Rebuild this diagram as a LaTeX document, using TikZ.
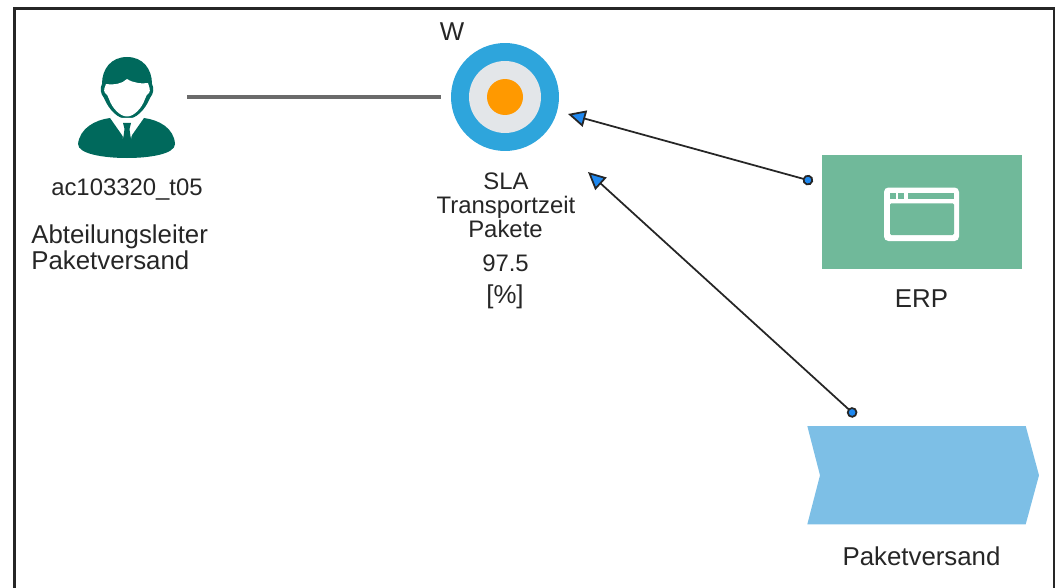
\documentclass[tikz,border=0pt]{standalone}
\usepackage{fontspec}
\setmainfont{Liberation Sans}
\usetikzlibrary{arrows.meta}
\definecolor{kpiblue}{HTML}{2EA5DC}
\definecolor{kpigrey}{HTML}{E3E6E9}
\definecolor{kpiorange}{HTML}{FF9900}
\definecolor{erpgreen}{HTML}{70B99A}
\definecolor{procblue}{HTML}{7DBFE6}
\definecolor{roleteal}{HTML}{00695C}
\definecolor{tipblue}{HTML}{1E88F0}
\tikzset{
  lbl/.style={font=\fontsize{14.7}{14.7}\selectfont, text=black!85, inner sep=0pt, anchor=base},
  lblsmall/.style={lbl, font=\fontsize{13.6}{13.6}\selectfont},
  disc/.style={circle, inner sep=0pt, minimum size=#1},
  link/.style={draw=black!85, line width=1pt,
    {Circle[length=6pt, fill=tipblue]}-{Triangle[length=10pt, width=9.5pt, fill=tipblue]}},
}
\begin{document}
\begin{tikzpicture}[x=0.02cm, y=-0.02cm]
    \useasboundingbox (0,0) rectangle (1058,588);
    % frame
    \draw[black!85, line width=1.4pt] (14.5,588) -- (14.5,8.5) -- (1054,8.5) -- (1054,588);
    % role
    \fill[roleteal] (127,57) .. controls (143,57) and (152,69) .. (152,84)
        .. controls (154,88) and (154,93) .. (150,98)
        .. controls (145,110) and (136,119) .. (127,119)
        .. controls (118,119) and (109,110) .. (104,98)
        .. controls (100,93) and (100,88) .. (102,84)
        .. controls (102,69) and (111,57) .. (127,57) -- cycle;
    \fill[white] (127,79) .. controls (133,83) and (142,84) .. (148,83)
        .. controls (149,87) and (151,90) .. (149,93)
        .. controls (147,94) and (146,96) .. (145,99)
        .. controls (142,108) and (134,116.5) .. (127,116.5)
        .. controls (120,116.5) and (112,108) .. (109,99)
        .. controls (108,96) and (107,94) .. (105,93)
        .. controls (103,90) and (105,87) .. (106,84)
        .. controls (114,85) and (122,84) .. (127,79) -- cycle;
    \fill[roleteal] (78,144) .. controls (80,128) and (95,120) .. (110,118)
        -- (124,138) -- (130,138) -- (144,118)
        .. controls (159,120) and (174,128) .. (175,144)
        .. controls (175,154) and (150,158) .. (127,158)
        .. controls (104,158) and (78,154) .. (78,144) -- cycle;
    \fill[white] (122,128) -- (123,139) -- (124,122) -- (130,122) -- (131,139) -- (133,128) -- (140,118) -- (114,118) -- cycle;
    \fill[roleteal] (123,123) -- (131,123) -- (129.5,129) -- (131,140) -- (123,140) -- (124.5,129) -- cycle;
    \node[lblsmall] (rolecode) at (127,195) {ac103320\_t05};
    \node[lbl, anchor=base west] (rolename1) at (31,243) {Abteilungsleiter};
    \node[lbl, anchor=base west] (rolename2) at (31,269) {Paketversand};
    % kpi
    \node[disc=2.16cm, fill=kpiblue] (kpi) at (505,97) {};
    \node[disc=1.44cm, fill=kpigrey] (kpimid) at (kpi) {};
    \node[disc=0.72cm, fill=kpiorange] (kpicore) at (kpi) {};
    \node[lbl] (kpiw) at (452,41) {W};
    \node[lblsmall] (kpi1) at (506,189) {SLA};
    \node[lblsmall] (kpi2) at (506,213) {Transportzeit};
    \node[lblsmall] (kpi3) at (505.5,237) {Pakete};
    \node[lblsmall] (kpival) at (505.5,271) {97.5};
    \node[lbl] (kpiunit) at (505,303) {[\%]};
    % erp
    \node[fill=erpgreen, minimum width=4cm, minimum height=2.28cm, inner sep=0pt] (erp) at (922,212) {};
    \fill[white, rounded corners=2.5pt] (884,187.5) rectangle (959,241);
    \fill[erpgreen] (890,193.3) rectangle (896,199.3);
    \fill[erpgreen] (898,193.3) rectangle (904,199.3);
    \fill[erpgreen] (908,193.3) rectangle (954,199.3);
    \fill[erpgreen, rounded corners=0.8pt] (890,203.3) rectangle (954,235);
    \node[lbl] (erplbl) at (921.5,307) {ERP};
    % process
    \fill[procblue] (807.3,426) -- (1025.7,426) -- (1039,475.3) -- (1025.7,524.3) -- (807.3,524.3) -- (820,475.3) -- cycle;
    \node[lbl] (proclbl) at (921.5,565) {Paketversand};
    % links
    \coordinate (rolelink) at (187,97);
    \coordinate (kpilink) at (441,97);
    \coordinate (erpdot) at (813,181.5);
    \coordinate (erptip) at (568,114);
    \coordinate (procdot) at (856,416);
    \coordinate (proctip) at (588,172);
    \draw[black!58, line width=2.1pt] (rolelink) -- (kpilink);
    \draw[link] (erpdot) -- (erptip);
    \draw[link] (procdot) -- (proctip);
\end{tikzpicture}
\end{document}
